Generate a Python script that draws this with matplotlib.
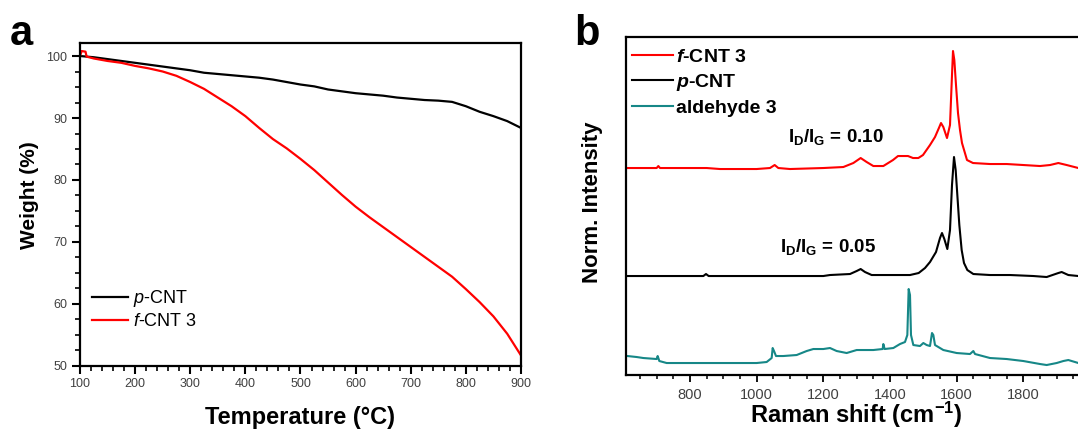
import matplotlib
matplotlib.use('Agg')
import matplotlib.pyplot as plt
from matplotlib.ticker import MultipleLocator, NullLocator

plt.rcParams['font.family'] = ['Liberation Sans', 'DejaVu Sans']
plt.rcParams['mathtext.fontset'] = 'custom'
plt.rcParams['mathtext.rm'] = 'Liberation Sans'
plt.rcParams['mathtext.it'] = 'Liberation Sans:italic'
plt.rcParams['mathtext.bf'] = 'Liberation Sans:bold'
plt.rcParams['mathtext.bfit'] = 'Liberation Sans:italic:bold'

# =========================
# data - panel a (TGA)
# =========================
temp_p = [100, 125, 150, 175, 200, 225, 250, 275, 300, 325, 350, 375, 400, 425, 450, 475,
          500, 525, 550, 575, 600, 625, 650, 675, 700, 725, 750, 775, 800, 825, 850, 875, 900]
weight_p = [100.0, 99.8, 99.5, 99.2, 98.9, 98.6, 98.3, 98.0, 97.7, 97.3, 97.1, 96.9, 96.7,
            96.5, 96.2, 95.8, 95.4, 95.1, 94.6, 94.3, 94.0, 93.8, 93.6, 93.3, 93.1, 92.9,
            92.8, 92.6, 91.9, 91.0, 90.3, 89.5, 88.4]

temp_f = [100, 103, 110, 112, 125, 150, 175, 200, 225, 250, 275, 300, 325, 350, 375, 400,
          425, 450, 475, 500, 525, 550, 575, 600, 625, 650, 675, 700, 725, 750, 775, 800,
          825, 850, 875, 900]
weight_f = [100.0, 100.8, 100.7, 99.9, 99.6, 99.2, 98.9, 98.4, 98.0, 97.5, 96.8, 95.8, 94.7,
            93.3, 91.9, 90.3, 88.4, 86.6, 85.1, 83.4, 81.6, 79.6, 77.6, 75.7, 74.0, 72.4,
            70.8, 69.2, 67.6, 66.0, 64.4, 62.4, 60.3, 58.0, 55.2, 51.7]

# =========================
# data - panel b (Raman, offset spectra)
# =========================
shift_f = [612, 700, 705, 710, 850, 890, 1000, 1040, 1054, 1065, 1100, 1200, 1260, 1290,
           1312, 1330, 1350, 1380, 1409, 1424, 1440, 1454, 1469, 1485, 1499, 1520, 1535,
           1548, 1553, 1560, 1571, 1580, 1586, 1589, 1593, 1598, 1604, 1610, 1616, 1631,
           1649, 1700, 1750, 1800, 1850, 1880, 1905, 1930, 1965]
int_f = [207, 207, 209, 207, 207, 206, 206, 207, 210, 207, 206, 207, 208, 212,
         217, 213, 209, 209, 215, 219, 219, 219, 217, 217, 220, 230, 238,
         248, 252, 248, 237, 250, 300, 324, 315, 290, 262, 245, 232, 215,
         212, 211, 211, 210, 209, 210, 212, 210, 207]

shift_p = [612, 840, 848, 856, 1000, 1200, 1220, 1280, 1300, 1312, 1325, 1345, 1400, 1460,
           1486, 1505, 1520, 1538, 1550, 1556, 1563, 1572, 1580, 1586, 1592, 1597, 1602,
           1608, 1615, 1622, 1632, 1650, 1700, 1760, 1830, 1870, 1905, 1915, 1935, 1965]
int_p = [99, 99, 101, 99, 99, 99, 100, 101, 104, 106, 103, 100, 100, 100,
         102, 107, 113, 123, 137, 142, 136, 126, 145, 190, 218, 205, 180,
         150, 125, 112, 105, 101, 100, 100, 99, 98, 102, 103, 100, 99]

shift_a = [612, 640, 660, 700, 703, 708, 730, 800, 900, 1000, 1030, 1045, 1048, 1052, 1058,
           1080, 1120, 1150, 1170, 1200, 1220, 1240, 1270, 1300, 1350, 1378, 1380, 1384,
           1410, 1430, 1445, 1452, 1456, 1460, 1463, 1470, 1490, 1500, 1510, 1520, 1526,
           1530, 1535, 1560, 1600, 1640, 1650, 1655, 1700, 1750, 1800, 1850, 1870, 1900,
           1920, 1935, 1965]
int_a = [19, 18, 17, 16, 19, 14, 12, 12, 12, 12, 13, 17, 27, 24, 19,
         19, 20, 24, 26, 26, 27, 24, 22, 25, 25, 26, 31, 26,
         27, 31, 33, 40, 86, 80, 40, 30, 29, 32, 30, 29, 42,
         40, 30, 25, 22, 21, 24, 21, 17, 16, 14, 11, 10, 12,
         14, 15, 12]

teal = '#168787'
grey = '#404040'

fig = plt.figure(figsize=(10.78, 4.32), dpi=100)

# =========================
# panel a
# =========================
ax1 = fig.add_axes([0.0742, 0.1528, 0.4091, 0.7477])
ax1.plot(temp_p, weight_p, color='black', lw=1.6, label=r'$\mathit{p}$-CNT')
ax1.plot(temp_f, weight_f, color='red', lw=1.6, label=r'$\mathit{f}$-CNT 3')
ax1.set_xlim(100, 900)
ax1.set_ylim(50, 102.1)
ax1.xaxis.set_major_locator(MultipleLocator(100))
ax1.xaxis.set_minor_locator(MultipleLocator(20))
ax1.yaxis.set_major_locator(MultipleLocator(10))
ax1.yaxis.set_minor_locator(MultipleLocator(2.5))
ax1.tick_params(which='major', direction='out', length=6, width=1.5,
                labelsize=9, labelcolor=grey, pad=3)
ax1.tick_params(which='minor', direction='out', length=3.5, width=1.2)
for s in ax1.spines.values():
    s.set_linewidth(1.6)
ax1.set_xlabel('Temperature (°C)', fontsize=17, fontweight='bold', va='center')
ax1.xaxis.set_label_coords(0.5, -0.161)
ax1.set_ylabel('Weight (%)', fontsize=15, fontweight='bold', va='center')
ax1.yaxis.set_label_coords(-0.115, 0.53)
ax1.legend(loc='upper left', bbox_to_anchor=(0.027, 0.24), frameon=False,
           fontsize=13, handlelength=2.0, handletextpad=0.3, labelspacing=0.2,
           borderpad=0, borderaxespad=0)
fig.text(0.009, 0.895, 'a', fontsize=30, fontweight='bold', ha='left', va='baseline')

# =========================
# panel b (axis runs off the right edge of the figure)
# =========================
ax2 = fig.add_axes([0.5807, 0.1319, 0.4193, 0.7824])
ax2.plot(shift_f, int_f, color='red', lw=1.5, label=r'$\mathbfit{f}$-CNT 3')
ax2.plot(shift_p, int_p, color='black', lw=1.5, label=r'$\mathbfit{p}$-CNT')
ax2.plot(shift_a, int_a, color=teal, lw=1.5, label='aldehyde 3')
ax2.set_xlim(608, 1964)
ax2.set_ylim(0, 338)
ax2.xaxis.set_major_locator(MultipleLocator(200))
ax2.xaxis.set_minor_locator(MultipleLocator(50))
ax2.yaxis.set_major_locator(NullLocator())
ax2.tick_params(which='major', direction='out', length=5, width=1.3,
                labelsize=10.5, labelcolor=grey, pad=4)
ax2.tick_params(which='minor', direction='out', length=3, width=1.1)
for s in ax2.spines.values():
    s.set_linewidth(1.6)
ax2.spines['right'].set_visible(False)
ax2.set_xlabel(r'Raman shift (cm$^{\mathbf{-1}}$)', fontsize=17, fontweight='bold', va='center')
ax2.xaxis.set_label_coords(0.509, -0.118)
ax2.set_ylabel('Norm. Intensity', fontsize=16, fontweight='bold', va='center')
ax2.yaxis.set_label_coords(-0.073, 0.51)
ax2.legend(loc='upper left', bbox_to_anchor=(0.013, 0.967), frameon=False,
           prop={'size': 14, 'weight': 'bold'}, handlelength=2.1, handletextpad=0.15,
           labelspacing=0.32, borderpad=0, borderaxespad=0)
ax2.text(1094, 238, r'$\mathbf{I_D/I_G}$ = 0.10', fontsize=13.5, fontweight='bold',
         ha='left', va='center')
ax2.text(1070, 128, r'$\mathbf{I_D/I_G}$ = 0.05', fontsize=13.5, fontweight='bold',
         ha='left', va='center')
fig.text(0.533, 0.895, 'b', fontsize=30, fontweight='bold', ha='left', va='baseline')

fig.savefig('out.png', dpi=100)
